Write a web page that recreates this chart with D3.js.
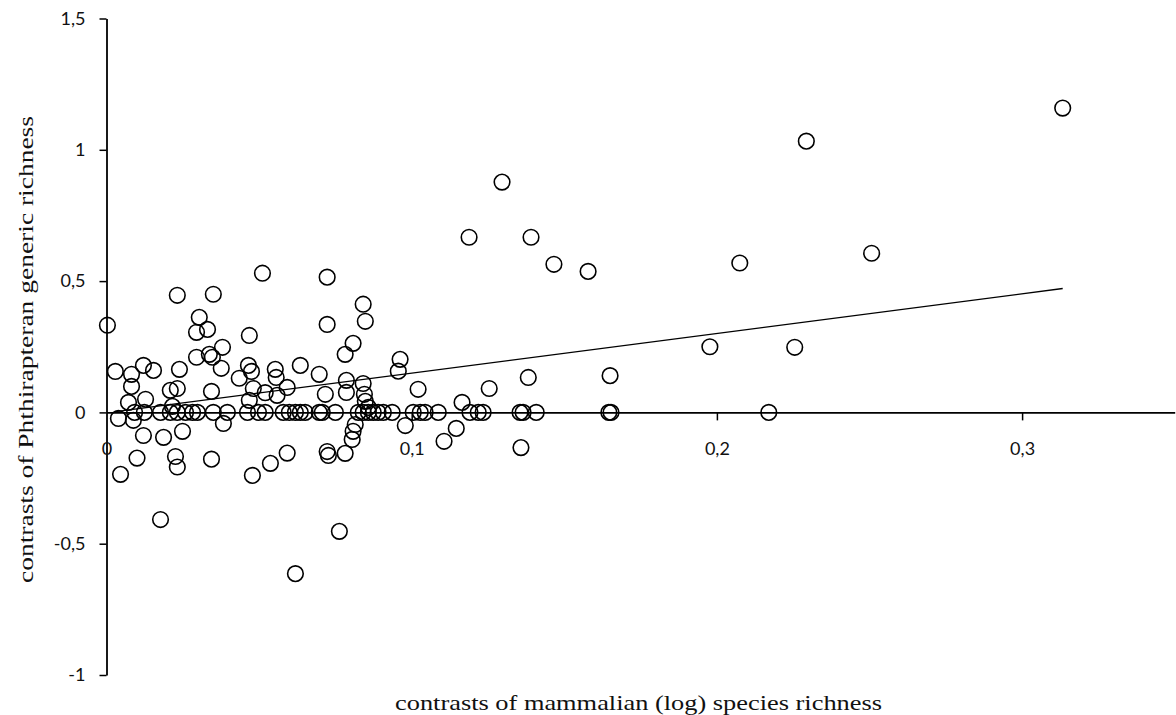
<!DOCTYPE html>
<html>
<head>
<meta charset="utf-8">
<script src="https://cdn.jsdelivr.net/npm/d3@7"></script>
<style>
  html, body { margin: 0; padding: 0; background: #fff; }
  svg { display: block; }
</style>
</head>
<body>
<svg id="chart" width="1176" height="715"></svg>
<script>
// Contrasts of mammalian (log) species richness (x)
const mammalianContrasts = [
  0.3133, 0.2293, 0.1296, 0.1188, 0.1391, 0.2507, 0.2075, 0.1466, 0.1578, 0.0511,
  0.0723, 0.0232, 0.0350, 0.0003, 0.0841, 0.0848, 0.0304, 0.0295, 0.0331, 0.0468,
  0.0723, 0.0782, 0.0808, 0.0962, 0.0956, 0.1021, 0.1254, 0.1382, 0.1650, 0.1977,
  0.2255, 0.0029, 0.0082, 0.0121, 0.0154, 0.0082, 0.0239, 0.0295, 0.0337, 0.0347,
  0.0380, 0.0376, 0.0435, 0.0465, 0.0475, 0.0209, 0.0232, 0.0344, 0.0072, 0.0128,
  0.0216, 0.0481, 0.0468, 0.0520, 0.0553, 0.0556, 0.0559, 0.0592, 0.0635, 0.0697,
  0.0717, 0.0786, 0.0786, 0.0841, 0.0845, 0.0848, 0.0858, 0.1165,
  0.0039, 0.0088, 0.0121, 0.0187, 0.0249, 0.0383, 0.0815, 0.0808, 0.0805, 0.0979,
  0.1146, 0.1106, 0.1358, 0.0100, 0.0226, 0.0232, 0.0344, 0.0046, 0.0478, 0.0537,
  0.0592, 0.0723, 0.0727, 0.0782, 0.0177, 0.0619, 0.0763,
  0.0092, 0.0124, 0.0177, 0.0209, 0.0232, 0.0259, 0.0282, 0.0298, 0.0350, 0.0396,
  0.0462, 0.0498, 0.0520, 0.0579, 0.0599, 0.0619, 0.0635, 0.0651, 0.0697, 0.0707,
  0.0750, 0.0825, 0.0841, 0.0858, 0.0874, 0.0890, 0.0907, 0.0936, 0.1005, 0.1028,
  0.1044, 0.1087, 0.1191, 0.1218, 0.1234, 0.1355, 0.1365, 0.1408, 0.1646, 0.1653,
  0.2170
];
// Contrasts of Phthirapteran generic richness (y)
const phthirapteranContrasts = [
  1.159, 1.033, 0.877, 0.667, 0.667, 0.606, 0.569, 0.564, 0.537, 0.530,
  0.515, 0.446, 0.450, 0.332, 0.412, 0.347, 0.362, 0.305, 0.316, 0.293,
  0.335, 0.221, 0.263, 0.202, 0.157, 0.088, 0.091, 0.133, 0.140, 0.250,
  0.248, 0.156, 0.145, 0.179, 0.160, 0.099, 0.164, 0.210, 0.221, 0.210,
  0.248, 0.168, 0.130, 0.179, 0.156, 0.084, 0.091, 0.080, 0.038, 0.050,
  0.023, 0.091, 0.046, 0.075, 0.164, 0.133, 0.065, 0.095, 0.179, 0.145,
  0.069, 0.122, 0.076, 0.110, 0.069, 0.042, 0.019, 0.038,
  -0.023, -0.030, -0.088, -0.095, -0.072, -0.042, -0.046, -0.072, -0.103, -0.050,
  -0.061, -0.110, -0.134, -0.174, -0.168, -0.208, -0.178, -0.236, -0.240, -0.194,
  -0.155, -0.149, -0.164, -0.156, -0.408, -0.614, -0.453,
  0, 0, 0, 0, 0, 0, 0, 0, 0, 0,
  0, 0, 0, 0, 0, 0, 0, 0, 0, 0,
  0, 0, 0, 0, 0, 0, 0, 0, 0, 0,
  0, 0, 0, 0, 0, 0, 0, 0, 0, 0,
  0
];
const xTickValues = [0, 0.1, 0.2, 0.3];
const yTickValues = [-1, -0.5, 0, 0.5, 1, 1.5];
const xDomain = [0, 0.35];
const yDomain = [-1, 1.5];
// regression line
const fitSlope = 1.51;
const fitIntercept = -0.0014;
const fitXRange = [0.003, 0.3133];
const xTitle = "contrasts of mammalian (log) species richness";
const yTitle = "contrasts of Phthirapteran generic richness";

const svg = d3.select("#chart");
const x = d3.scaleLinear().domain(xDomain).range([106.5, 106.5 + 0.35 * 3052]);
const y = d3.scaleLinear().domain(yDomain).range([675, 18.5]);
const fmt = d => d === 0 ? "0" : String(d).replace(".", ",");

const points = mammalianContrasts.map((v, i) => ({ x: v, y: phthirapteranContrasts[i] }));

// Y axis
const yAxis = svg.append("g")
  .attr("transform", `translate(${x(0)},0)`)
  .call(d3.axisLeft(y).tickValues(yTickValues).tickFormat(fmt).tickSize(7).tickSizeOuter(0).tickPadding(14));
yAxis.select(".domain").attr("stroke", "#000").attr("stroke-width", 1.8);
yAxis.selectAll(".tick line").attr("stroke", "#000").attr("stroke-width", 1.5);
yAxis.selectAll(".tick text")
  .attr("font-family", "Lato, 'Open Sans', sans-serif")
  .attr("font-size", 18).attr("fill", "#111");

// X axis
const xAxis = svg.append("g")
  .attr("transform", `translate(0,${y(0)})`)
  .call(d3.axisBottom(x).tickValues(xTickValues).tickFormat(fmt).tickSize(8).tickSizeOuter(0).tickPadding(22));
xAxis.select(".domain").attr("stroke", "#000").attr("stroke-width", 1.8);
xAxis.selectAll(".tick line").attr("stroke", "#000").attr("stroke-width", 1.5)
  .attr("opacity", d => d === 0 ? 0 : 1);
xAxis.selectAll(".tick text")
  .attr("font-family", "Lato, 'Open Sans', sans-serif")
  .attr("font-size", 18).attr("fill", "#111");

// Points
svg.append("g").selectAll("circle")
  .data(points)
  .join("circle")
  .attr("cx", d => x(d.x))
  .attr("cy", d => y(d.y))
  .attr("r", 7.8)
  .attr("fill", "none")
  .attr("stroke", "#000")
  .attr("stroke-width", 1.6);

// Regression line
const fitData = fitXRange.map(v => ({ x: v, y: fitIntercept + fitSlope * v }));
svg.append("path")
  .datum(fitData)
  .attr("d", d3.line().x(d => x(d.x)).y(d => y(d.y)))
  .attr("fill", "none")
  .attr("stroke", "#000")
  .attr("stroke-width", 1.4);

// Axis titles
svg.append("text")
  .attr("x", 395).attr("y", 710)
  .attr("font-family", "'Liberation Serif', 'Times New Roman', serif")
  .attr("font-size", 22)
  .attr("textLength", 487).attr("lengthAdjust", "spacingAndGlyphs")
  .attr("fill", "#111")
  .text(xTitle);

svg.append("text")
  .attr("transform", "translate(33,583) rotate(-90)")
  .attr("font-family", "'Liberation Serif', 'Times New Roman', serif")
  .attr("font-size", 22)
  .attr("textLength", 467).attr("lengthAdjust", "spacingAndGlyphs")
  .attr("fill", "#111")
  .text(yTitle);
</script>
</body>
</html>
